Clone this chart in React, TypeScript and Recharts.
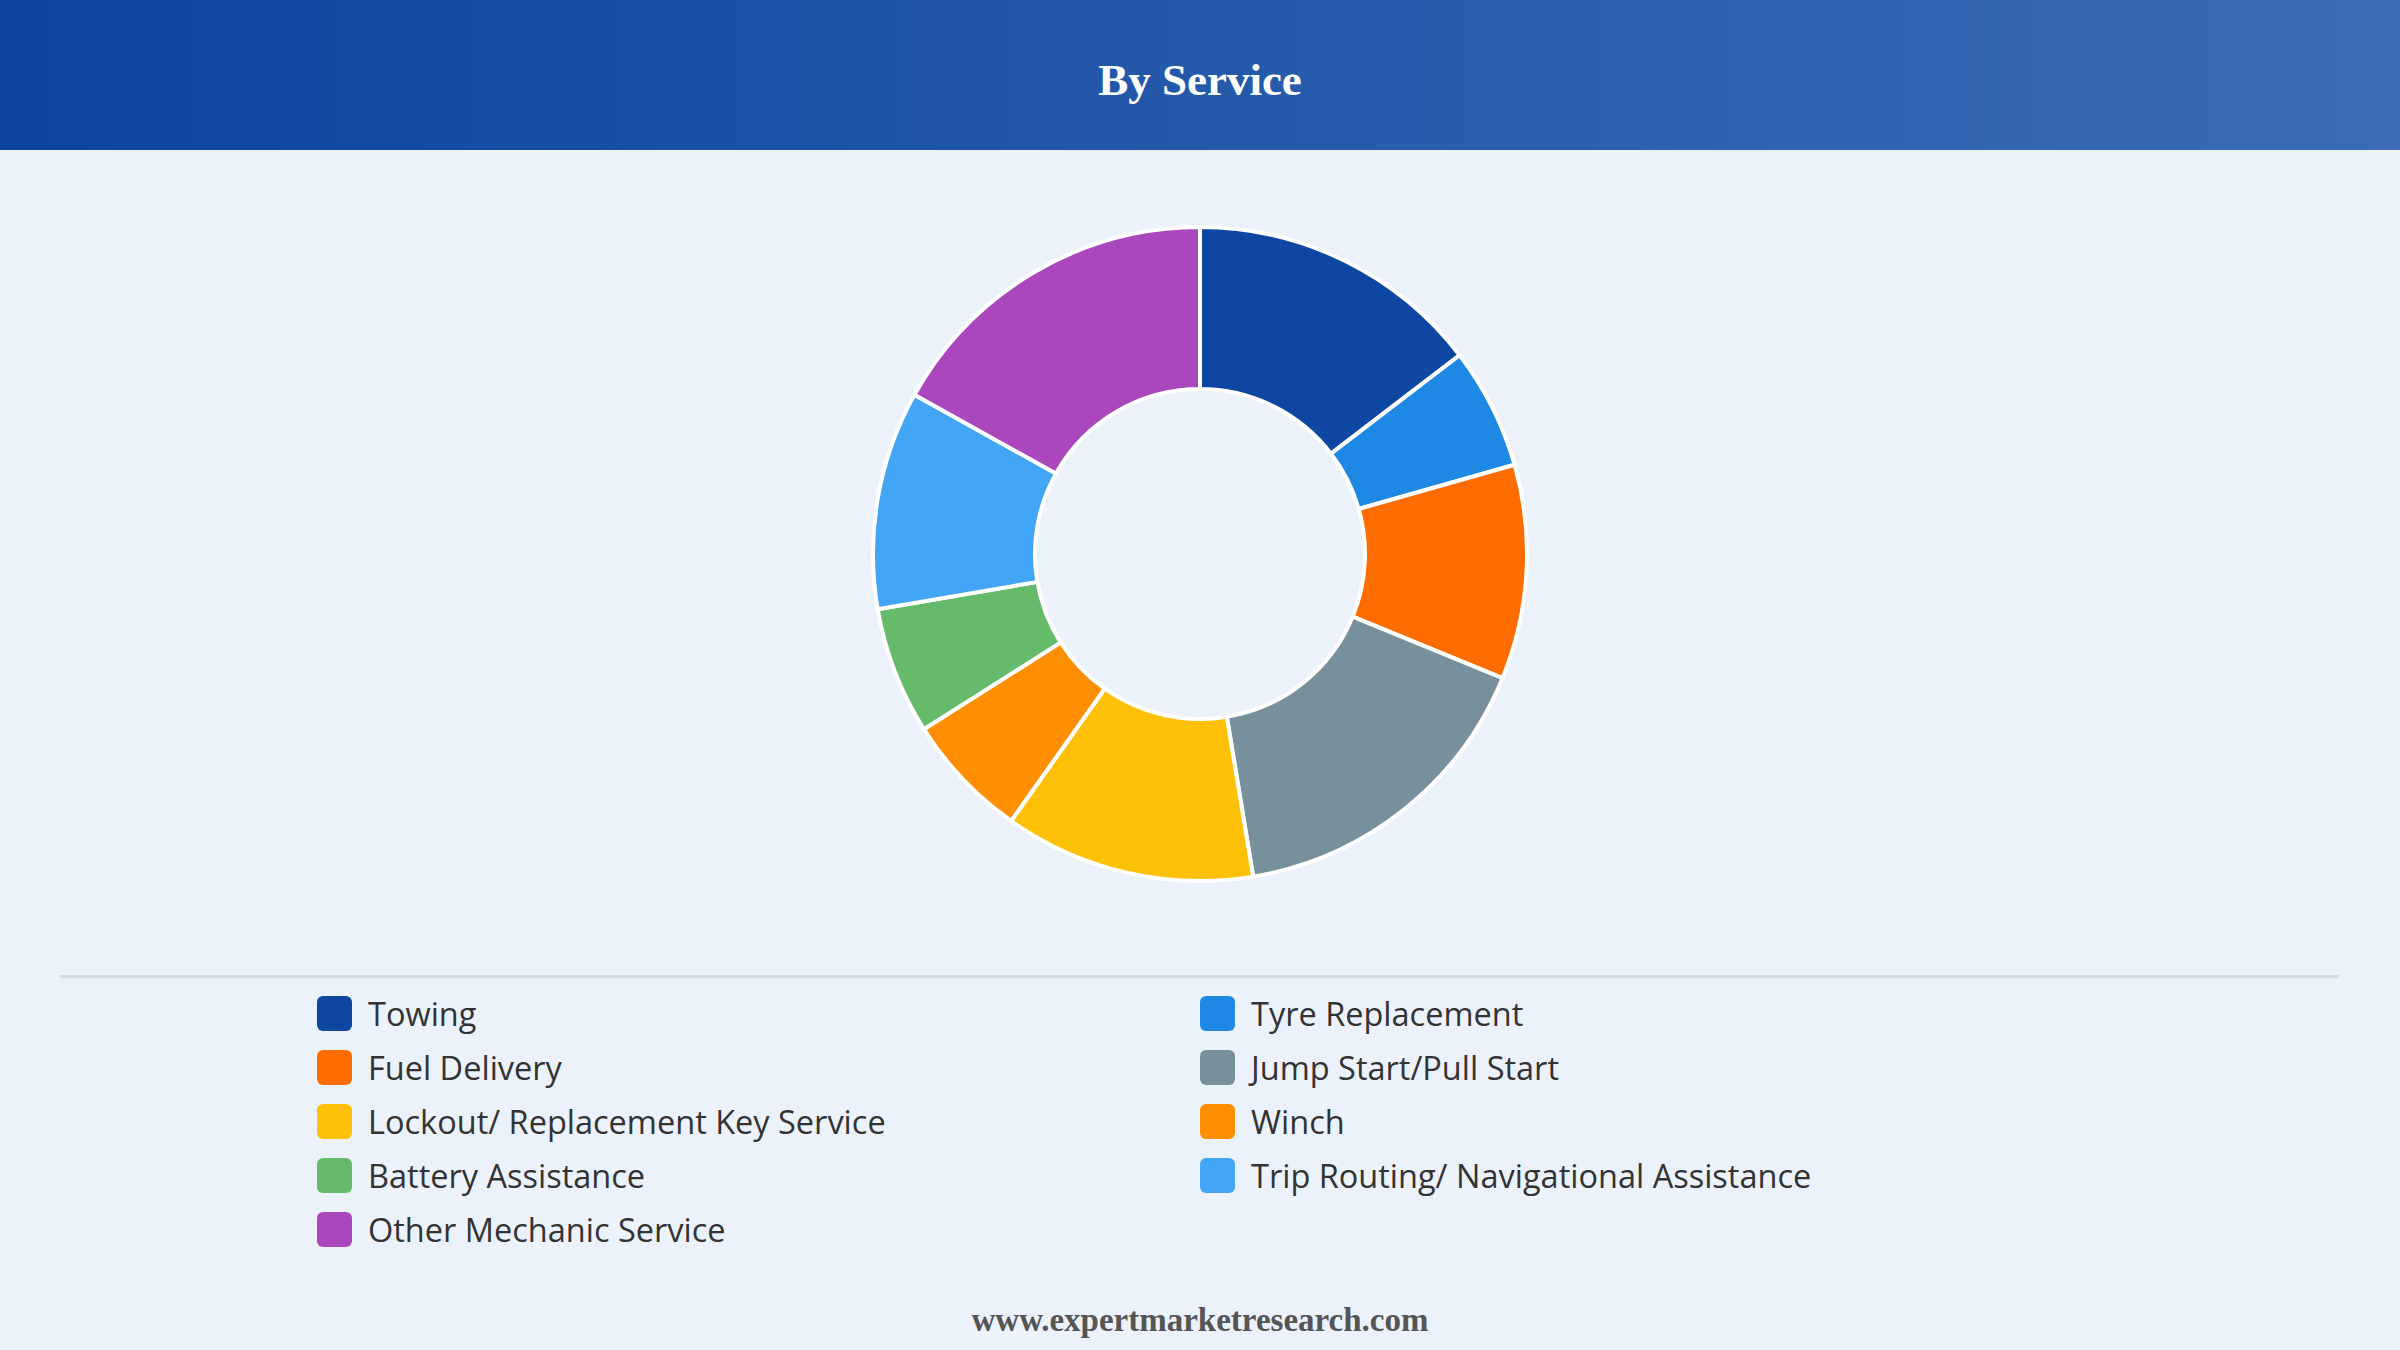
import React from "react";
import { PieChart, Pie, Cell } from "recharts";

// Segment labels, shares (%) and colours
const services = [
  "Towing",
  "Tyre Replacement",
  "Fuel Delivery",
  "Jump Start/Pull Start",
  "Lockout/ Replacement Key Service",
  "Winch",
  "Battery Assistance",
  "Trip Routing/ Navigational Assistance",
  "Other Mechanic Service",
];
const shares = [14.6, 6.0, 10.6, 16.2, 12.4, 6.2, 6.3, 10.8, 16.9];
const colors = [
  "#0d47a1",
  "#1e88e5",
  "#ff6d00",
  "#78909c",
  "#ffc107",
  "#ff8f00",
  "#66bb6a",
  "#42a5f5",
  "#ab47bc",
];

const chartData = services.map((name, i) => ({ name, value: shares[i] }));

const App = () => {
  return (
    <div
      style={{
        position: "absolute",
        left: 0,
        top: 0,
        width: 2400,
        height: 1350,
        background: "#ebf2fc",
        overflow: "hidden",
      }}
    >
      <div
        style={{
          height: 150,
          paddingTop: 10,
          boxSizing: "border-box",
          background: "linear-gradient(90deg, #0b45a0 0%, #2257a9 45%, #3b6cb5 100%)",
          display: "flex",
          alignItems: "center",
          justifyContent: "center",
          color: "#ffffff",
          fontFamily: "'Liberation Serif', 'DejaVu Serif', serif",
          fontWeight: "bold",
          fontSize: 45,
        }}
      >
        By Service
      </div>

      <PieChart
        width={2400}
        height={826}
        margin={{ top: 0, right: 0, bottom: 0, left: 0 }}
      >
        <Pie
          data={chartData}
          dataKey="value"
          nameKey="name"
          cx={1200}
          cy={404}
          innerRadius={165}
          outerRadius={327}
          startAngle={90}
          endAngle={-270}
          stroke="#ffffff"
          strokeWidth={4}
          isAnimationActive={false}
        >
          {chartData.map((d, i) => (
            <Cell key={d.name} fill={colors[i]} />
          ))}
        </Pie>
      </PieChart>

      <div
        style={{
          position: "absolute",
          left: 60,
          top: 975,
          width: 2279,
          height: 3,
          background: "#d5dbe2",
        }}
      />

      <div
        style={{
          position: "absolute",
          left: 317,
          top: 986,
          width: 1800,
          display: "grid",
          gridTemplateColumns: "883px 900px",
          fontFamily: "'Open Sans', 'Noto Sans', sans-serif",
          fontSize: 32.5,
          color: "#333333",
        }}
      >
        {services.map((name, i) => (
          <div
            key={name}
            style={{ display: "flex", alignItems: "center", height: 54 }}
          >
            <div
              style={{
                width: 35,
                height: 35,
                borderRadius: 6,
                background: colors[i],
                marginRight: 16,
              }}
            />
            <span>{name}</span>
          </div>
        ))}
      </div>

      <div
        style={{
          position: "absolute",
          left: 0,
          top: 1302,
          width: 2400,
          textAlign: "center",
          fontFamily: "'Liberation Serif', 'DejaVu Serif', serif",
          fontWeight: "bold",
          fontSize: 33,
          color: "#555555",
        }}
      >
        www.expertmarketresearch.com
      </div>
    </div>
  );
};

export default App;
